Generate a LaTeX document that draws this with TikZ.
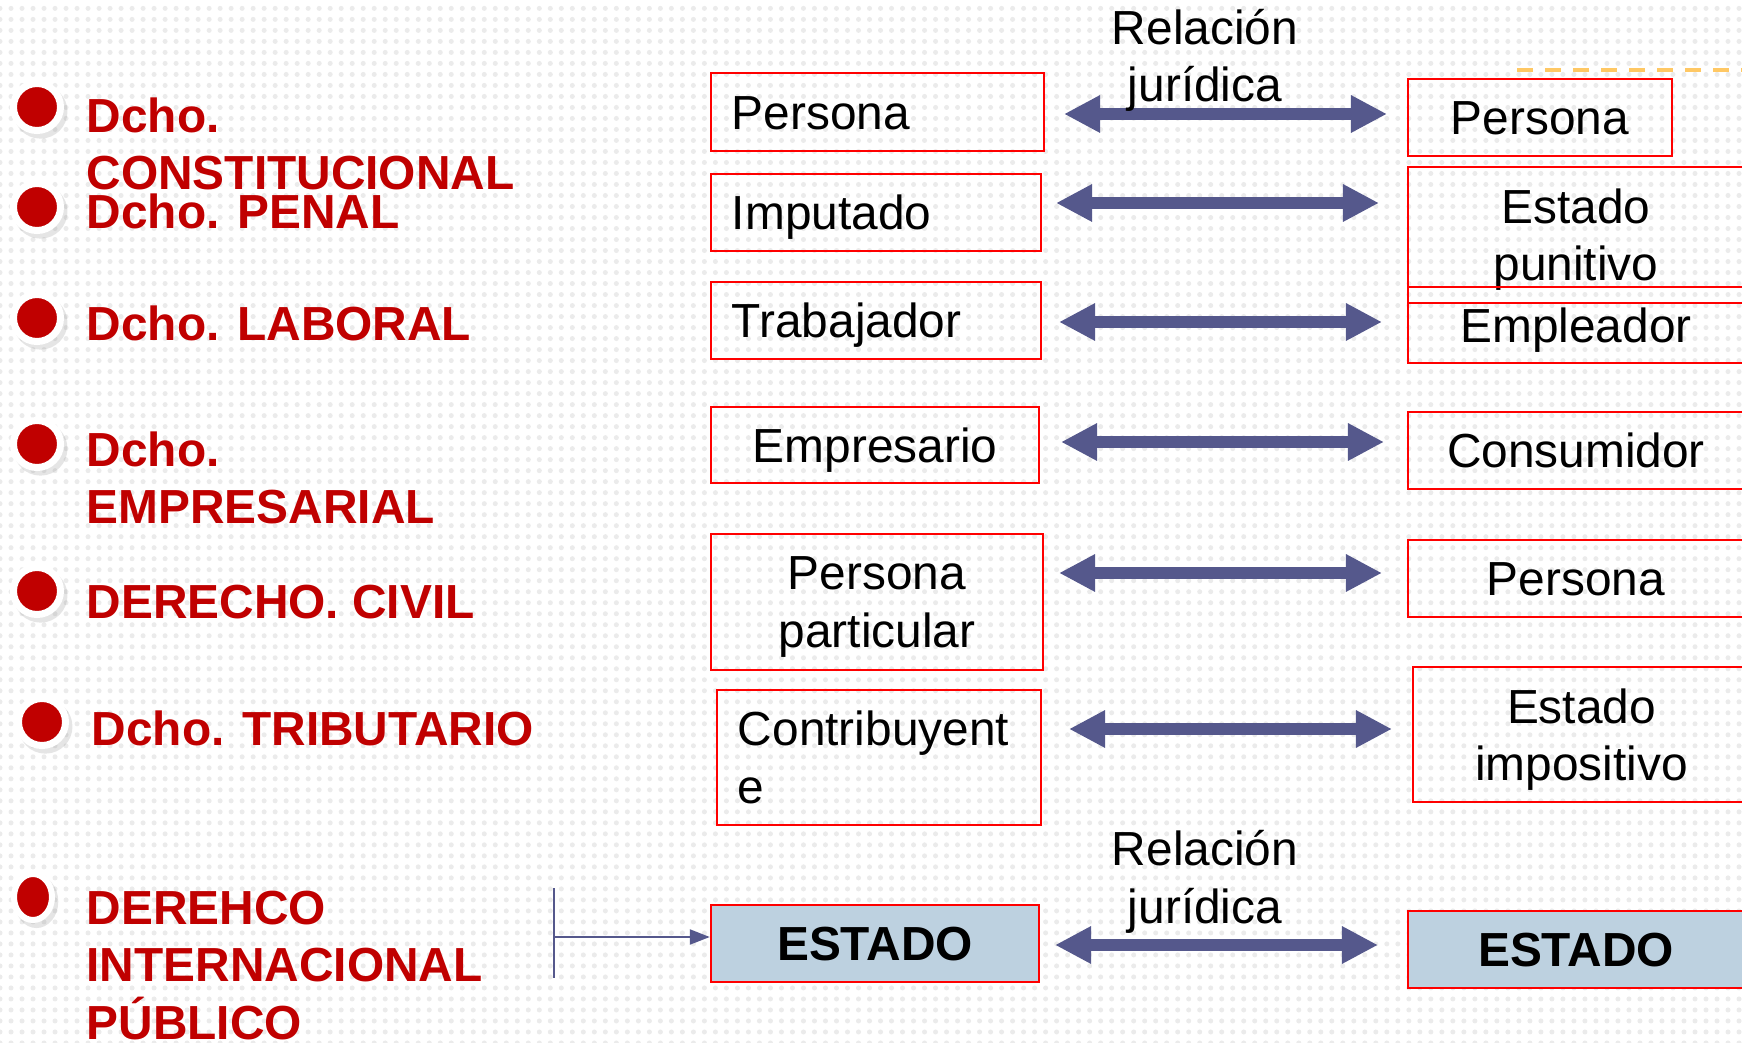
\documentclass[tikz,border=0pt]{standalone}
\usepackage{fontspec}
\setmainfont{Liberation Sans}
\usetikzlibrary{arrows.meta, shapes.geometric, shadows, patterns.meta}
\definecolor{labelred}{RGB}{192,0,0}
\definecolor{boxred}{RGB}{255,0,0}
\definecolor{arrowblue}{RGB}{85,88,140}
\definecolor{estadoblue}{RGB}{189,209,224}
\definecolor{dashorange}{RGB}{255,200,100}
\newcommand{\slidefont}{\fontsize{13.6pt}{16.3pt}\selectfont}

\begin{document}
\begin{tikzpicture}[
		x=0.01cm, y=-0.01cm,
		bullet/.style={circle, fill=labelred, draw=white, line width=0.07cm, minimum size=0.47cm, inner sep=0pt,
			drop shadow={shadow xshift=0.03cm, shadow yshift=-0.04cm, shadow scale=1.15, opacity=0.2}},
		branch/.style={anchor=base west, inner sep=0pt, align=left, text=labelred, font=\slidefont\bfseries},
		box/.style={draw=boxred, line width=0.022cm, inner sep=0pt, font=\slidefont},
		oneline/.style={text height=0.34cm, text depth=0cm},
		twoline/.style={text depth=0cm},
		lbox/.style={box, text width=#1, align=left, inner xsep=0.21cm},
		cbox/.style={box, align=center, minimum width=#1},
		estado/.style={fill=estadoblue, font=\slidefont\bfseries},
		relarrow/.style={draw=arrowblue, line width=0.12cm,
			{Triangle[width=0.35cm,length=0.36cm]}-{Triangle[width=0.35cm,length=0.36cm]}},
		reltext/.style={anchor=base, inner sep=0pt, align=center, font=\slidefont},
		pointer/.style={draw=arrowblue, line width=0.02cm},
		]

	\fill[white] (0,0) rectangle (1742,1043);
	\fill[pattern={Dots[distance=0.11cm, radius=0.025cm]}, pattern color=black!8] (0,0) rectangle (1742,1043);
	\useasboundingbox (0,0) rectangle (1742,1043);

	% ramas
	\node (b1) [bullet] at (37,107) {};
	\node (b2) [bullet] at (37,207) {};
	\node (b3) [bullet] at (37,318) {};
	\node (b4) [bullet] at (37,444) {};
	\node (b5) [bullet] at (37,591) {};
	\node (b6) [bullet] at (42,722) {};
	\node (b7) [bullet, ellipse, minimum width=0.38cm, minimum height=0.46cm, line width=0.06cm] at (33,897) {};

	\node (d1) [branch] at (86,190) {Dcho.\\CONSTITUCIONAL};
	\node (d2) [branch] at (86,229) {Dcho. PENAL};
	\node (d3) [branch] at (86,341) {Dcho. LABORAL};
	\node (d4) [branch] at (86,524) {Dcho.\\EMPRESARIAL};
	\node (d5) [branch] at (86,618) {DERECHO. CIVIL};
	\node (d6) [branch] at (91,745) {Dcho. TRIBUTARIO};
	\node (d7) [branch] at (86,1039) {DEREHCO\\INTERNACIONAL\\PÚBLICO};

	% sujetos de la relacion
	\node (lPer) [lbox=2.91cm, oneline, minimum height=0.78cm] at (877.5,112) {Persona};
	\node (lImp) [lbox=2.88cm, oneline, minimum height=0.77cm] at (876,212.5) {Imputado};
	\node (lTra) [lbox=2.88cm, oneline, minimum height=0.77cm] at (876,320.5) {Trabajador};
	\node (lEmp) [cbox=3.28cm, oneline, minimum height=0.76cm] at (875,445) {Empresario};
	\node (lPar) [cbox=3.32cm, twoline, minimum height=1.36cm] at (877,602) {Persona\\particular};
	\node (lCon) [lbox=2.82cm, minimum height=1.35cm] at (879,757.5) {Contribuyent\\e};
	\node (lEst) [cbox=3.28cm, oneline, estado, minimum height=0.77cm] at (875,943.5) {ESTADO};

	\node (rPer) [cbox=2.64cm, oneline, minimum height=0.77cm] at (1540,117.5) {Persona};
	\node (rPun) [cbox=3.36cm, twoline, minimum height=1.36cm] at (1576,235) {Estado\\punitivo};
	\node (rEmp) [cbox=3.36cm, oneline, minimum height=0.76cm] at (1576,325) {Empleador};
	\node (rCon) [cbox=3.36cm, oneline, minimum height=0.77cm] at (1576,450.5) {Consumidor};
	\node (rPer2) [cbox=3.36cm, oneline, minimum height=0.77cm] at (1576,578.5) {Persona};
	\node (rImp) [cbox=3.37cm, twoline, minimum height=1.35cm] at (1581.5,734.5) {Estado\\impositivo};
	\node (rEst) [cbox=3.36cm, oneline, estado, minimum height=0.77cm] at (1576,949.5) {ESTADO};

	% relaciones juridicas
	\foreach \n/\xa/\y in {1/1064/114, 2/1056/203, 3/1059/322, 4/1061/442, 5/1059/573, 6/1069/729, 7/1055/945}{
		\coordinate (ra\n) at (\xa,\y);
		\coordinate (rb\n) at (\xa+323,\y);
		\draw[relarrow] (ra\n) -- (rb\n);
	}
	\node (rel1) [reltext] at (1205,102) {Relación\\jurídica};
	\node (rel2) [reltext] at (1205,923) {Relación\\jurídica};

	\coordinate (brkT) at (554,888);
	\coordinate (brkB) at (554,978);
	\coordinate (brkM) at (554,937);
	\draw[pointer] (brkT) -- (brkB);
	\draw[pointer, -{Triangle[width=0.15cm,length=0.2cm]}] (brkM) -- (brkM -| lEst.west);

	\coordinate (dashA) at (1517,70);
	\coordinate (dashB) at (1742,70);
	\draw[dashorange, line width=0.04cm, dash pattern=on 0.16cm off 0.12cm] (dashA) -- (dashB);
\end{tikzpicture}
\end{document}
